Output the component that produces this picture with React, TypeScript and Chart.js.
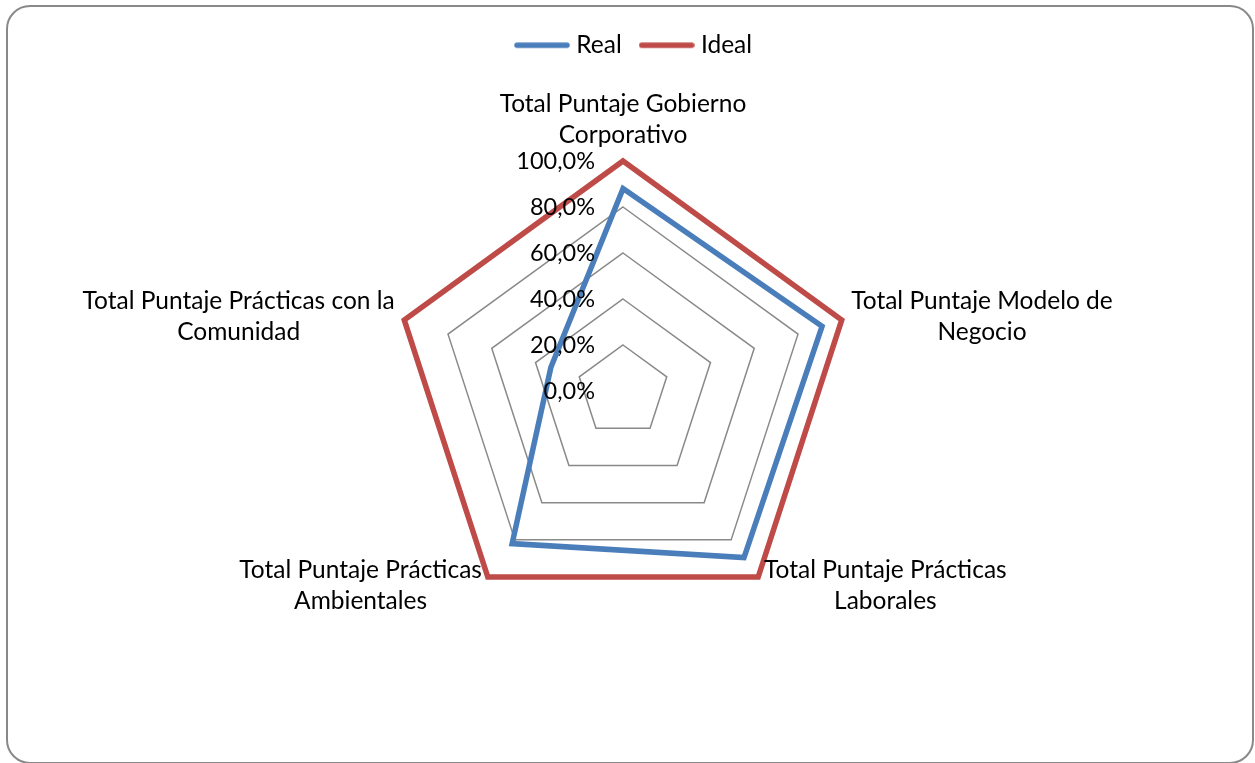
import React, { useEffect, useRef } from 'react';
import { Chart, registerables } from 'chart.js';

Chart.register(...registerables);

// ---- Data ----
const categories: string[][] = [
  ['Total Puntaje Gobierno', 'Corporativo'],
  ['Total Puntaje Modelo de', 'Negocio'],
  ['Total Puntaje Prácticas', 'Laborales'],
  ['Total Puntaje Prácticas', 'Ambientales'],
  ['Total Puntaje Prácticas con la', 'Comunidad'],
];
const realValues = [88, 91, 89.5, 82, 33];
const idealValues = [100, 100, 100, 100, 100];
const seriesNames = ['Real', 'Ideal'];
const tickMin = 0;
const tickMax = 100;
const tickStep = 20;

// ---- Style / layout ----
const FONT = 'Lato';
const FONT_SIZE = 24.5;
const TICK_FONT_SIZE = 23.5;
const LINE_H = 31;
const CX = 623;
const CY = 391;
const RADIUS = 230;
const LABEL_PAD = 10;
const TICK_OFFSET = 28;
const REAL_COLOR = '#4A7EBB';
const IDEAL_COLOR = '#BE4B48';
const GRID_COLOR = '#898989';
const LINE_W = 5.5;

const fmt = (v: number) => v.toFixed(1).replace('.', ',') + '%';

// legend swatch: a round-capped line, slightly wider than its legend box
function makeSwatch(color: string): HTMLCanvasElement {
  const c = document.createElement('canvas');
  c.width = 56;
  c.height = 8;
  const g = c.getContext('2d')!;
  g.strokeStyle = color;
  g.lineWidth = LINE_W;
  g.lineCap = 'round';
  g.beginPath();
  g.moveTo(3, 4);
  g.lineTo(53, 4);
  g.stroke();
  return c;
}

const labelPlugin = {
  id: 'excelLabels',
  afterDraw(chart: any) {
    const scale = chart.scales.r;
    const ctx = chart.ctx as CanvasRenderingContext2D;
    ctx.save();
    ctx.fillStyle = '#000';
    ctx.textBaseline = 'middle';
    // radial tick labels, right-aligned left of the axis
    ctx.font = `${TICK_FONT_SIZE}px ${FONT}`;
    ctx.textAlign = 'right';
    scale.ticks.forEach((t: any) => {
      const d = scale.getDistanceFromCenterForValue(t.value);
      ctx.fillText(fmt(t.value), scale.xCenter - TICK_OFFSET, scale.yCenter - d);
    });
    // point labels (lines centered within their block)
    ctx.font = `${FONT_SIZE}px ${FONT}`;
    ctx.textAlign = 'center';
    categories.forEach((lines, i) => {
      const p = scale.getPointPosition(i, scale.drawingArea + LABEL_PAD);
      const w = Math.max(...lines.map((l) => ctx.measureText(l).width));
      const h = lines.length * LINE_H;
      const dx = p.x - scale.xCenter;
      let left: number;
      let top: number;
      if (Math.abs(dx) < 1) {
        left = p.x - w / 2;
        top = p.y - h;
      } else if (dx > 0) {
        left = p.x;
        top = p.y - h / 2;
      } else {
        left = p.x - w;
        top = p.y - h / 2;
      }
      lines.forEach((l, k) => ctx.fillText(l, left + w / 2, top + LINE_H * (k + 0.5)));
    });
    ctx.restore();
  },
};

export default function App() {
  const ref = useRef<HTMLCanvasElement | null>(null);

  useEffect(() => {
    if (!ref.current) return;
    const chart = new Chart(ref.current, {
      type: 'radar',
      data: {
        labels: categories,
        datasets: [
          {
            label: seriesNames[0],
            data: realValues,
            borderColor: REAL_COLOR,
            backgroundColor: REAL_COLOR,
            borderWidth: LINE_W,
            pointRadius: 0,
            pointHoverRadius: 0,
            pointStyle: makeSwatch(REAL_COLOR),
            fill: false,
            borderJoinStyle: 'miter',
          },
          {
            label: seriesNames[1],
            data: idealValues,
            borderColor: IDEAL_COLOR,
            backgroundColor: IDEAL_COLOR,
            borderWidth: LINE_W,
            pointRadius: 0,
            pointHoverRadius: 0,
            pointStyle: makeSwatch(IDEAL_COLOR),
            fill: false,
            borderJoinStyle: 'miter',
          },
        ],
      },
      options: {
        responsive: false,
        animation: false,
        devicePixelRatio: 1,
        layout: { padding: { top: 10, left: 17 } },
        plugins: {
          legend: {
            position: 'top',
            labels: {
              usePointStyle: true,
              pointStyleWidth: 44,
              color: '#000',
              padding: 23,
              font: { family: FONT, size: FONT_SIZE },
            },
          },
          tooltip: { enabled: false },
        },
        scales: {
          r: {
            min: tickMin,
            max: tickMax,
            beginAtZero: true,
            ticks: { display: false, stepSize: tickStep },
            pointLabels: { display: false },
            angleLines: { display: false },
            grid: { color: GRID_COLOR, lineWidth: 1.5 },
            afterFit: (s: any) => {
              s.xCenter = CX;
              s.yCenter = CY;
              s.drawingArea = RADIUS;
            },
          },
        },
      },
      plugins: [labelPlugin],
    } as any);
    return () => chart.destroy();
  }, []);

  return (
    <div style={{ position: 'absolute', left: 0, top: 0, width: 1255, height: 763, overflow: 'hidden', background: '#fff' }}>
      <div
        style={{
          position: 'absolute',
          left: 6,
          top: 5,
          width: 1244,
          height: 755,
          border: `2px solid ${GRID_COLOR}`,
          borderRadius: 24,
        }}
      />
      <canvas ref={ref} width={1255} height={763} style={{ position: 'absolute', left: 0, top: 0 }} />
    </div>
  );
}
